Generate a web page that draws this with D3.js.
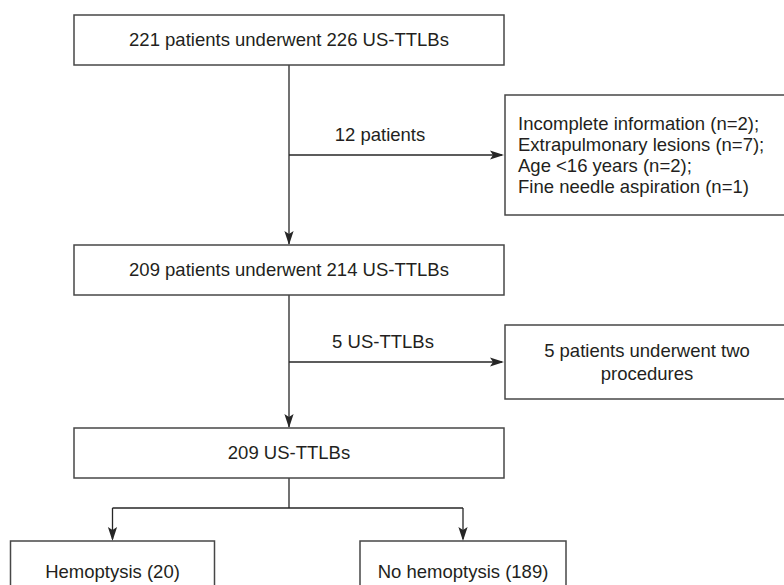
<!DOCTYPE html>
<html>
<head>
<meta charset="utf-8">
<script src="https://d3js.org/d3.v7.min.js"></script>
<style>
  body { margin: 0; background: #fff; }
  svg { display: block; }
  text { font-family: "Liberation Sans", Arial, Helvetica, sans-serif; fill: #231f20; }
</style>
</head>
<body>
<div id="chart"></div>
<script>
// flow stages (main column), top to bottom
var stageLabels = ["221 patients underwent 226 US-TTLBs", "209 patients underwent 214 US-TTLBs", "209 US-TTLBs"];
// exclusions going out to the right
var exclusionCounts = ["12 patients", "5 US-TTLBs"];
var exclusionLines = [
  ["Incomplete information (n=2);", "Extrapulmonary lesions (n=7);", "Age <16 years (n=2);", "Fine needle aspiration (n=1)"],
  ["5 patients underwent two", "procedures"]
];
// final split
var groupLabels = ["Hemoptysis (20)", "No hemoptysis (189)"];

var W = 784, H = 585, fs = 18.5;

var svg = d3.select("#chart").append("svg")
  .attr("width", W).attr("height", H);

// layout
var mainX = [74, 504];
var cx = (mainX[0] + mainX[1]) / 2;
var stageY = [15, 245, 428], boxH = 50;
var sideX = [505, 790];
var sideBox = [[95, 215], [325, 399]];
var arrowY = [155, 362];
var labelPos = [[380, 135], [383, 342]];
var splitY = 508, groupTop = 541;
var groupX = d3.scalePoint().domain(groupLabels).range([112.5, 463]);
var groupW = [204, 206];

var boxStroke = "#474747", lineStroke = "#262626";

function arrowHead(x, y, dir) {
  // tip at (x,y)
  var L = 14, w = 4.6, n = 3;
  var pts = dir === "down"
    ? [[x, y], [x - w, y - L], [x, y - L + n], [x + w, y - L]]
    : [[x, y], [x - L, y - w], [x - L + n, y], [x - L, y + w]];
  svg.append("path").attr("d", "M" + pts.join("L") + "Z").attr("fill", lineStroke);
}
function line(x1, y1, x2, y2) {
  svg.append("line").attr("x1", x1).attr("y1", y1).attr("x2", x2).attr("y2", y2)
    .attr("stroke", lineStroke).attr("stroke-width", 1.3);
}
function box(x0, y0, x1, y1) {
  svg.append("rect").attr("x", x0).attr("y", y0).attr("width", x1 - x0).attr("height", y1 - y0)
    .attr("fill", "#fff").attr("stroke", boxStroke).attr("stroke-width", 1.5);
}
function label(t, x, y, anchor) {
  svg.append("text").attr("x", x).attr("y", y + fs * 0.35)
    .attr("text-anchor", anchor || "middle").attr("font-size", fs).text(t);
}

// connectors in main column
line(cx, stageY[0] + boxH, cx, stageY[1] - 1); arrowHead(cx, stageY[1], "down");
line(cx, stageY[1] + boxH, cx, stageY[2] - 1); arrowHead(cx, stageY[2], "down");

// exclusion arrows
exclusionCounts.forEach(function (c, i) {
  line(cx, arrowY[i], sideX[0] - 3, arrowY[i]);
  arrowHead(sideX[0] - 1, arrowY[i], "right");
  label(c, labelPos[i][0], labelPos[i][1]);
});

// split
line(cx, stageY[2] + boxH, cx, splitY);
line(groupX(groupLabels[0]), splitY, groupX(groupLabels[1]), splitY);
groupLabels.forEach(function (g) {
  line(groupX(g), splitY, groupX(g), groupTop - 2);
  arrowHead(groupX(g), groupTop, "down");
});

// main boxes
stageLabels.forEach(function (s, i) {
  box(mainX[0], stageY[i], mainX[1], stageY[i] + boxH);
  label(s, cx, stageY[i] + boxH / 2);
});

// side boxes
exclusionLines.forEach(function (lines, i) {
  var b = sideBox[i];
  box(sideX[0], b[0], sideX[1], b[1]);
  var mid = (b[0] + b[1]) / 2;
  if (i === 0) {
    var sp = 21;
    lines.forEach(function (t, j) {
      label(t, 518, mid + (j - (lines.length - 1) / 2) * sp, "start");
    });
  } else {
    var sp2 = 23;
    lines.forEach(function (t, j) {
      label(t, 647, mid + (j - (lines.length - 1) / 2) * sp2);
    });
  }
});

// group boxes (run off the bottom of the picture)
groupLabels.forEach(function (g, i) {
  var gx = groupX(g);
  box(gx - groupW[i] / 2, groupTop, gx + groupW[i] / 2, groupTop + 62);
  label(g, gx, groupTop + 31);
});
</script>
</body>
</html>
